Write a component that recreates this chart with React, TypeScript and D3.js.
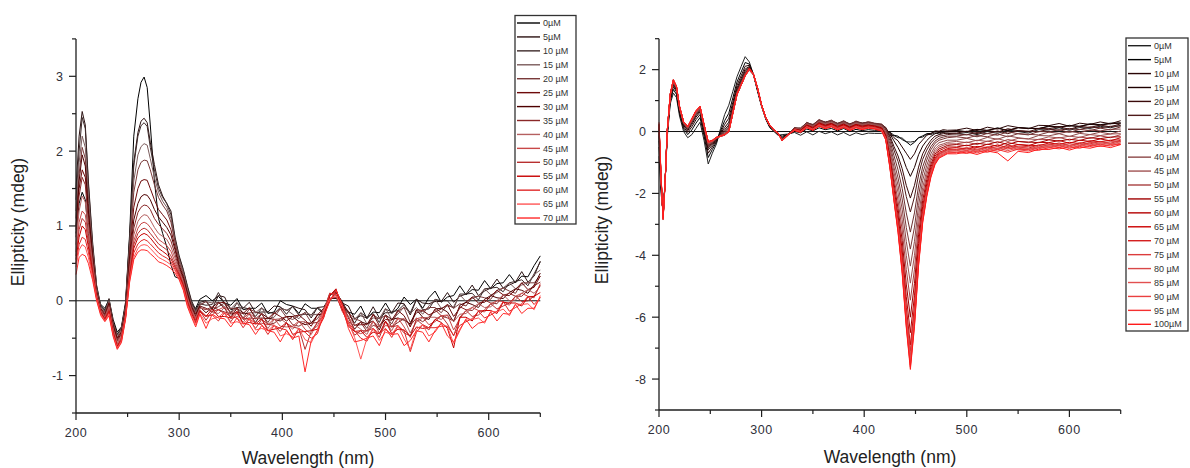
import React from 'react';
import * as d3 from 'd3';

// ---------------- LEFT PANEL DATA ----------------
const leftWavelengthsUV = [200,203,206,209,212,216,220,224,228,232,236,240,244,248,252,256,260,263,266,269,272,276,280,284,288,292,296,300,304,308,312,316,320];
const leftWavelengthsVis = [326,332,338,344,350,356,362,368,374,380,386,392,398,404,410,416,422,428,434,440,446,452,458,464,470,476,482,488,494,500,506,512,518,524,530,536,542,548,554,560,566,572,578,584,590,596,602,608,614,620,626,632,638,644,650];
const leftLabels = ['0µM','5µM','10 µM','15 µM','20 µM','25 µM','30 µM','35 µM','40 µM','45 µM','50 µM','55 µM','60 µM','65 µM','70 µM'];
const leftColors = ['#000000','#2b1212','#3d2a2a','#7b5c5c','#7a3b3b','#6e0a0a','#4d0000','#8a2828','#b56060','#c84848','#b83030','#c80000','#e02828','#ff5555','#ff2a2a'];
const leftValuesUV: number[][] = [
  [0.9,1.3,1.45,1.35,0.9,0.45,0.1,-0.05,-0.1,0.02,-0.25,-0.42,-0.35,-0.02,0.9,2.2,2.7,2.92,2.99,2.85,2.35,1.6,1.1,0.9,0.72,0.48,0.32,0.3,0.25,0.12,-0.05,-0.1,0.02],
  [1.5,2.2,2.53,2.35,1.6,0.8,0.2,-0.08,-0.12,0.0,-0.28,-0.45,-0.38,-0.05,0.85,1.85,2.25,2.4,2.44,2.38,2.12,1.82,1.55,1.4,1.3,1.2,0.85,0.6,0.42,0.2,0.0,-0.12,-0.02],
  [1.35,2.0,2.45,2.3,1.55,0.75,0.2,-0.06,-0.14,0.03,-0.3,-0.45,-0.36,-0.06,0.82,1.8,2.2,2.34,2.38,2.33,2.05,1.75,1.5,1.38,1.3,1.15,0.82,0.58,0.4,0.18,-0.02,-0.14,-0.04],
  [1.2,1.85,2.2,2.05,1.4,0.7,0.15,-0.08,-0.15,0.0,-0.3,-0.48,-0.38,-0.08,0.75,1.6,1.95,2.06,2.1,2.08,1.9,1.65,1.45,1.33,1.25,1.1,0.8,0.55,0.38,0.15,-0.05,-0.15,-0.05],
  [1.1,1.7,2.05,1.9,1.3,0.65,0.15,-0.1,-0.16,-0.02,-0.32,-0.5,-0.4,-0.1,0.68,1.45,1.75,1.85,1.88,1.87,1.75,1.55,1.38,1.28,1.2,1.05,0.78,0.52,0.35,0.12,-0.06,-0.17,-0.06],
  [1.0,1.5,1.75,1.65,1.15,0.6,0.12,-0.1,-0.18,-0.03,-0.33,-0.5,-0.42,-0.12,0.6,1.25,1.5,1.6,1.62,1.61,1.5,1.35,1.22,1.15,1.08,0.95,0.72,0.48,0.32,0.1,-0.08,-0.18,-0.07],
  [0.95,1.6,1.95,1.8,1.2,0.6,0.1,-0.12,-0.2,-0.05,-0.35,-0.52,-0.44,-0.14,0.52,1.08,1.3,1.39,1.42,1.41,1.35,1.22,1.12,1.05,0.98,0.88,0.68,0.45,0.3,0.08,-0.1,-0.2,-0.08],
  [0.85,1.4,1.65,1.55,1.05,0.55,0.1,-0.12,-0.2,-0.06,-0.36,-0.54,-0.45,-0.16,0.47,0.97,1.18,1.25,1.28,1.27,1.22,1.1,1.02,0.96,0.9,0.8,0.62,0.42,0.28,0.06,-0.11,-0.22,-0.09],
  [0.75,1.2,1.4,1.32,0.95,0.5,0.08,-0.13,-0.22,-0.08,-0.38,-0.56,-0.46,-0.18,0.42,0.88,1.06,1.12,1.15,1.14,1.08,0.98,0.9,0.86,0.82,0.72,0.57,0.4,0.25,0.04,-0.12,-0.23,-0.1],
  [0.65,1.05,1.2,1.15,0.85,0.45,0.06,-0.14,-0.23,-0.1,-0.4,-0.58,-0.48,-0.2,0.38,0.8,0.97,1.03,1.05,1.03,0.98,0.9,0.82,0.78,0.74,0.66,0.52,0.38,0.23,0.02,-0.14,-0.25,-0.12],
  [0.6,0.95,1.1,1.05,0.78,0.42,0.05,-0.15,-0.24,-0.12,-0.42,-0.6,-0.5,-0.21,0.35,0.75,0.9,0.95,0.97,0.95,0.9,0.83,0.76,0.72,0.68,0.6,0.48,0.36,0.22,0.0,-0.15,-0.26,-0.13],
  [0.55,0.85,1.0,0.95,0.72,0.38,0.04,-0.16,-0.25,-0.14,-0.43,-0.61,-0.52,-0.22,0.32,0.7,0.84,0.88,0.9,0.88,0.84,0.77,0.7,0.66,0.62,0.56,0.45,0.34,0.2,-0.02,-0.17,-0.28,-0.14],
  [0.5,0.75,0.85,0.82,0.65,0.35,0.03,-0.17,-0.26,-0.16,-0.45,-0.63,-0.53,-0.23,0.3,0.64,0.76,0.8,0.82,0.8,0.76,0.7,0.64,0.6,0.57,0.52,0.42,0.32,0.18,-0.04,-0.19,-0.3,-0.15],
  [0.45,0.68,0.75,0.72,0.58,0.32,0.02,-0.18,-0.27,-0.18,-0.46,-0.64,-0.55,-0.24,0.27,0.58,0.7,0.74,0.75,0.74,0.7,0.64,0.58,0.55,0.52,0.48,0.4,0.3,0.16,-0.06,-0.2,-0.32,-0.17],
  [0.35,0.58,0.62,0.6,0.5,0.28,0.0,-0.2,-0.28,-0.2,-0.48,-0.65,-0.56,-0.25,0.25,0.55,0.65,0.68,0.68,0.67,0.63,0.58,0.52,0.5,0.47,0.43,0.37,0.28,0.14,-0.08,-0.22,-0.35,-0.18],
];
const leftValuesVis: number[][] = [
  [0.07,0.0,0.06,-0.03,-0.06,0.03,-0.12,-0.10,-0.10,-0.03,-0.17,-0.15,0.0,-0.05,-0.07,-0.17,-0.04,-0.10,-0.10,-0.17,0.07,0.13,-0.07,-0.15,-0.18,-0.07,-0.24,-0.15,-0.16,-0.03,-0.17,-0.10,0.05,-0.05,0.02,-0.10,0.04,0.13,-0.02,0.05,0.07,0.20,0.08,0.15,0.14,0.27,0.16,0.23,0.24,0.35,0.24,0.33,0.32,0.47,0.60],
  [0.0,-0.11,0.07,0.05,-0.12,-0.09,-0.10,-0.02,-0.16,-0.15,-0.15,-0.07,-0.08,-0.18,-0.07,-0.10,-0.12,-0.23,-0.09,-0.08,0.03,0.03,-0.03,-0.07,-0.24,-0.20,-0.23,-0.08,-0.23,-0.16,-0.16,-0.03,-0.04,-0.19,0.02,-0.03,-0.04,-0.01,-0.01,0.11,-0.02,0.06,0.09,0.21,0.07,0.13,0.17,0.29,0.17,0.21,0.25,0.39,0.25,0.33,0.53],
  [-0.06,-0.05,0.11,-0.04,-0.16,-0.03,-0.09,-0.11,-0.21,-0.10,-0.15,-0.17,-0.09,-0.13,-0.08,-0.19,-0.18,-0.19,-0.09,-0.15,0.0,0.11,-0.01,-0.16,-0.30,-0.16,-0.22,-0.17,-0.29,-0.11,-0.15,-0.13,-0.05,-0.16,0.02,-0.12,-0.11,0.02,0.0,0.0,-0.10,0.09,0.09,0.10,0.01,0.16,0.17,0.18,0.12,0.24,0.26,0.28,0.20,0.36,0.52],
  [-0.01,-0.03,-0.02,-0.08,-0.11,-0.02,-0.18,-0.16,-0.16,-0.09,-0.24,-0.22,-0.11,-0.12,-0.18,-0.24,-0.15,-0.19,-0.18,-0.19,0.07,0.14,-0.08,-0.21,-0.25,-0.16,-0.31,-0.23,-0.24,-0.10,-0.25,-0.18,-0.08,-0.17,-0.09,-0.18,-0.07,0.02,-0.10,-0.07,-0.08,0.08,-0.01,0.03,0.06,0.16,0.08,0.11,0.17,0.24,0.16,0.21,0.24,0.35,0.41],
  [-0.01,-0.12,-0.08,-0.03,-0.10,-0.11,-0.23,-0.11,-0.15,-0.18,-0.29,-0.17,-0.11,-0.22,-0.25,-0.20,-0.16,-0.29,-0.24,-0.12,0.10,0.07,-0.12,-0.16,-0.24,-0.27,-0.37,-0.19,-0.24,-0.20,-0.31,-0.14,-0.09,-0.29,-0.16,-0.14,-0.09,-0.09,-0.16,-0.05,-0.10,-0.04,-0.07,0.05,0.06,0.04,0.02,0.14,0.17,0.13,0.10,0.24,0.24,0.24,0.33],
  [-0.10,-0.15,-0.03,-0.02,-0.18,-0.15,-0.17,-0.09,-0.24,-0.23,-0.24,-0.16,-0.21,-0.27,-0.21,-0.19,-0.26,-0.34,-0.19,-0.10,0.03,0.04,-0.05,-0.14,-0.33,-0.32,-0.32,-0.18,-0.33,-0.25,-0.26,-0.13,-0.20,-0.35,-0.12,-0.13,-0.19,-0.15,-0.11,-0.05,-0.21,-0.10,-0.02,0.05,-0.03,-0.02,0.06,0.14,0.08,0.07,0.15,0.24,0.15,0.18,0.33],
  [-0.16,-0.09,-0.02,-0.10,-0.22,-0.10,-0.16,-0.18,-0.29,-0.17,-0.23,-0.25,-0.27,-0.21,-0.21,-0.28,-0.32,-0.30,-0.19,-0.17,0.0,0.12,-0.02,-0.23,-0.38,-0.28,-0.31,-0.27,-0.39,-0.19,-0.25,-0.23,-0.26,-0.31,-0.12,-0.22,-0.25,-0.11,-0.10,-0.15,-0.28,-0.06,-0.02,-0.05,-0.09,0.02,0.07,0.04,0.03,0.11,0.16,0.14,0.10,0.21,0.37],
  [-0.12,-0.08,-0.12,-0.15,-0.17,-0.09,-0.25,-0.23,-0.24,-0.17,-0.32,-0.30,-0.24,-0.21,-0.32,-0.34,-0.29,-0.30,-0.29,-0.21,0.07,0.15,-0.10,-0.28,-0.33,-0.29,-0.41,-0.33,-0.35,-0.19,-0.35,-0.29,-0.24,-0.33,-0.23,-0.28,-0.22,-0.12,-0.20,-0.23,-0.27,-0.08,-0.12,-0.13,-0.05,0.01,-0.03,-0.04,0.07,0.10,0.06,0.06,0.14,0.20,0.25],
  [-0.11,-0.15,-0.17,-0.09,-0.15,-0.17,-0.29,-0.17,-0.23,-0.25,-0.37,-0.25,-0.24,-0.30,-0.38,-0.28,-0.28,-0.39,-0.34,-0.14,0.10,0.08,-0.13,-0.22,-0.32,-0.38,-0.45,-0.28,-0.34,-0.28,-0.40,-0.24,-0.24,-0.43,-0.28,-0.23,-0.22,-0.22,-0.25,-0.19,-0.28,-0.18,-0.17,-0.09,-0.04,-0.09,-0.08,0.0,0.08,0.0,0.01,0.10,0.15,0.10,0.19],
  [-0.20,-0.19,-0.12,-0.08,-0.24,-0.21,-0.24,-0.16,-0.31,-0.30,-0.32,-0.24,-0.34,-0.35,-0.34,-0.27,-0.38,-0.45,-0.29,-0.12,0.03,0.05,-0.06,-0.21,-0.41,-0.44,-0.40,-0.27,-0.43,-0.33,-0.35,-0.23,-0.35,-0.49,-0.24,-0.22,-0.32,-0.28,-0.20,-0.19,-0.39,-0.24,-0.13,-0.09,-0.13,-0.15,-0.04,0.0,-0.01,-0.06,0.06,0.10,0.06,0.04,0.23],
  [-0.26,-0.14,-0.12,-0.17,-0.28,-0.16,-0.23,-0.25,-0.37,-0.25,-0.31,-0.33,-0.41,-0.30,-0.35,-0.37,-0.65,-0.41,-0.29,-0.20,0.0,0.13,-0.04,-0.30,-0.46,-0.40,-0.40,-0.37,-0.49,-0.28,-0.35,-0.33,-0.43,-0.47,-0.25,-0.32,-0.39,-0.25,-0.20,-0.31,-0.47,-0.22,-0.13,-0.21,-0.19,-0.12,-0.04,-0.11,-0.07,-0.03,0.06,-0.01,0.0,0.06,0.21],
  [-0.21,-0.11,-0.21,-0.21,-0.23,-0.14,-0.31,-0.29,-0.31,-0.24,-0.40,-0.38,-0.36,-0.29,-0.45,-0.42,-0.41,-0.40,-0.38,-0.23,0.07,0.16,-0.11,-0.34,-0.41,-0.40,-0.49,-0.42,-0.44,-0.27,-0.44,-0.38,-0.39,-0.47,-0.35,-0.37,-0.36,-0.25,-0.29,-0.37,-0.63,-0.22,-0.22,-0.27,-0.14,-0.13,-0.13,-0.17,-0.02,-0.03,-0.03,-0.07,0.05,0.06,0.11],
  [-0.21,-0.19,-0.27,-0.16,-0.21,-0.23,-0.36,-0.24,-0.30,-0.32,-0.45,-0.33,-0.37,-0.39,-0.52,-0.37,-0.42,-0.50,-0.44,-0.17,0.10,0.09,-0.14,-0.29,-0.40,-0.50,-0.54,-0.37,-0.44,-0.37,-0.49,-0.34,-0.40,-0.68,-0.42,-0.32,-0.36,-0.36,-0.34,-0.34,-0.46,-0.33,-0.28,-0.24,-0.14,-0.23,-0.19,-0.14,-0.01,-0.14,-0.09,-0.04,0.06,-0.05,0.04],
  [-0.30,-0.24,-0.22,-0.15,-0.30,-0.28,-0.31,-0.23,-0.39,-0.37,-0.40,-0.32,-0.47,-0.44,-0.48,-0.37,-0.52,-0.56,-0.39,-0.14,0.03,0.07,-0.08,-0.28,-0.49,-0.78,-0.50,-0.37,-0.53,-0.42,-0.45,-0.33,-0.51,-0.65,-0.38,-0.32,-0.47,-0.42,-0.30,-0.35,-0.57,-0.40,-0.24,-0.25,-0.23,-0.30,-0.14,-0.15,-0.11,-0.20,-0.04,-0.05,-0.04,-0.12,0.07],
  [-0.37,-0.18,-0.23,-0.24,-0.35,-0.23,-0.30,-0.32,-0.45,-0.33,-0.40,-0.42,-0.55,-0.40,-0.50,-0.47,-0.95,-0.53,-0.40,-0.22,0.0,0.14,-0.05,-0.37,-0.55,-0.53,-0.50,-0.47,-0.60,-0.38,-0.45,-0.44,-0.60,-0.53,-0.40,-0.42,-0.55,-0.40,-0.30,-0.47,-0.55,-0.38,-0.25,-0.37,-0.30,-0.28,-0.15,-0.27,-0.17,-0.18,-0.05,-0.17,-0.10,-0.10,0.05],
];
const leftYMajor = [-1, 0, 1, 2, 3];
const leftYMinor = [-1.5, -0.5, 0.5, 1.5, 2.5, 3.5];

// ---------------- RIGHT PANEL DATA ----------------
const rightWavelengthsUV = [200,202,204,206,208,211,214,217,220,224,228,232,236,240,244,248,252,256,260,264,268,272,276,280,284,288,292,296,300,304,308,312,316,320,326];
const rightWavelengthsMid = [332,338,344,350,356,362,368,374,380,386,392,398,404,410];
const rightWavelengthsBand = [417,421,425,429,433,437,441,445,449,453,457,461,465,469,473,477,481];
const rightWavelengthsTail = [490,500,510,520,530,540,550,560,570,580,590,600,610,620,630,640,650];
const rightLabels = ['0µM','5µM','10 µM','15 µM','20 µM','25 µM','30 µM','35 µM','40 µM','45 µM','50 µM','55 µM','60 µM','65 µM','70 µM','75 µM','80 µM','85 µM','90 µM','95 µM','100µM'];
const rightColors = ['#222222','#000000','#2a0505','#1e0000','#3a0a0a','#4e1a1a','#6a2e2e','#7a3838','#8c4848','#a05252','#a84040','#a00000','#b40000','#cc0000','#d42020','#dc3c3c','#d84848','#e25050','#ea4040','#f43030','#ff1a1a'];
const rightValuesUV: number[][] = [
  [-0.8,-2.0,-2.6,-1.6,-0.2,0.9,1.24,1.1,0.5,0.0,-0.2,-0.1,0.1,0.3,-0.3,-1.05,-0.7,-0.4,0.1,0.55,0.85,1.3,1.77,2.1,2.42,2.25,1.85,1.3,0.8,0.4,0.12,0.0,-0.12,-0.1,-0.08],
  [-0.5,-1.85,-2.66,-1.6,-0.14,0.99,1.36,1.2,0.59,0.09,-0.1,0.05,0.27,0.45,-0.15,-0.84,-0.58,-0.34,0.02,0.35,0.59,1.09,1.6,1.92,2.23,2.18,1.85,1.33,0.82,0.42,0.14,0.02,-0.1,-0.15,-0.09],
  [-0.3,-1.75,-2.7,-1.6,-0.1,1.05,1.45,1.28,0.65,0.15,-0.03,0.15,0.38,0.55,-0.05,-0.7,-0.5,-0.3,-0.03,0.23,0.43,0.95,1.49,1.8,2.11,2.14,1.85,1.35,0.83,0.43,0.16,0.03,-0.09,-0.19,-0.09],
  [-0.15,-1.67,-2.73,-1.6,-0.07,1.1,1.51,1.33,0.7,0.2,0.03,0.23,0.46,0.63,0.03,-0.59,-0.44,-0.27,-0.06,0.13,0.3,0.84,1.4,1.71,2.02,2.1,1.85,1.37,0.83,0.43,0.17,0.03,-0.07,-0.22,-0.09],
  [-0.05,-1.63,-2.75,-1.6,-0.05,1.13,1.55,1.36,0.73,0.23,0.06,0.28,0.51,0.68,0.08,-0.53,-0.4,-0.25,-0.09,0.06,0.21,0.78,1.34,1.65,1.96,2.08,1.85,1.38,0.84,0.44,0.18,0.04,-0.07,-0.24,-0.1],
  [0.02,-1.59,-2.76,-1.6,-0.04,1.15,1.58,1.39,0.75,0.25,0.09,0.31,0.55,0.71,0.11,-0.48,-0.37,-0.24,-0.11,0.02,0.15,0.73,1.3,1.61,1.91,2.06,1.85,1.38,0.84,0.44,0.19,0.04,-0.06,-0.25,-0.1],
  [0.06,-1.57,-2.77,-1.6,-0.03,1.16,1.59,1.4,0.76,0.26,0.1,0.33,0.57,0.73,0.13,-0.45,-0.36,-0.23,-0.12,-0.01,0.12,0.7,1.28,1.58,1.89,2.05,1.85,1.39,0.84,0.44,0.19,0.04,-0.06,-0.25,-0.1],
  [0.09,-1.56,-2.78,-1.62,-0.02,1.17,1.6,1.42,0.77,0.27,0.11,0.34,0.59,0.74,0.15,-0.43,-0.34,-0.22,-0.12,-0.04,0.09,0.68,1.26,1.56,1.87,2.04,1.85,1.39,0.85,0.45,0.19,0.05,-0.05,-0.26,-0.1],
  [0.1,-1.55,-2.75,-1.58,-0.02,1.15,1.6,1.42,0.75,0.25,0.1,0.33,0.58,0.72,0.15,-0.4,-0.33,-0.22,-0.13,-0.06,0.05,0.66,1.24,1.55,1.84,1.98,1.82,1.38,0.83,0.44,0.18,0.02,-0.08,-0.25,-0.12],
  [0.15,-1.5,-2.72,-1.6,0.02,1.18,1.62,1.44,0.78,0.28,0.12,0.36,0.6,0.75,0.17,-0.38,-0.32,-0.2,-0.15,-0.08,0.02,0.62,1.2,1.52,1.82,2.0,1.84,1.4,0.85,0.46,0.2,0.04,-0.06,-0.27,-0.11],
  [0.12,-1.52,-2.82,-1.62,-0.01,1.2,1.64,1.46,0.8,0.3,0.14,0.38,0.62,0.78,0.18,-0.36,-0.3,-0.22,-0.14,-0.1,0.0,0.6,1.18,1.5,1.8,1.98,1.86,1.42,0.86,0.45,0.19,0.05,-0.04,-0.3,-0.1],
  [0.18,-1.48,-2.78,-1.6,0.0,1.22,1.66,1.44,0.82,0.32,0.16,0.4,0.64,0.8,0.2,-0.34,-0.28,-0.18,-0.16,-0.12,-0.02,0.58,1.18,1.5,1.79,2.02,1.85,1.4,0.84,0.44,0.2,0.06,-0.05,-0.28,-0.09],
  [0.2,-1.5,-2.8,-1.62,0.01,1.2,1.66,1.46,0.8,0.3,0.15,0.41,0.66,0.79,0.2,-0.35,-0.31,-0.21,-0.15,-0.1,0.01,0.61,1.2,1.5,1.8,2.04,1.86,1.41,0.86,0.46,0.21,0.05,-0.06,-0.29,-0.1],
  [0.22,-1.46,-2.84,-1.64,0.0,1.22,1.68,1.47,0.82,0.31,0.16,0.42,0.67,0.8,0.21,-0.34,-0.3,-0.19,-0.16,-0.11,0.0,0.59,1.19,1.49,1.81,2.05,1.87,1.42,0.86,0.45,0.2,0.05,-0.05,-0.3,-0.11],
  [0.25,-1.45,-2.82,-1.6,0.02,1.21,1.67,1.46,0.81,0.31,0.15,0.41,0.66,0.81,0.21,-0.33,-0.29,-0.2,-0.15,-0.1,0.01,0.6,1.21,1.51,1.8,2.03,1.86,1.41,0.85,0.45,0.2,0.05,-0.05,-0.29,-0.1],
  [0.18,-1.52,-2.86,-1.66,-0.02,1.19,1.66,1.46,0.8,0.3,0.15,0.4,0.65,0.8,0.2,-0.35,-0.31,-0.2,-0.15,-0.1,0.0,0.6,1.2,1.5,1.8,2.02,1.85,1.4,0.85,0.45,0.2,0.04,-0.06,-0.3,-0.12],
  [0.22,-1.48,-2.8,-1.6,0.0,1.22,1.67,1.45,0.8,0.29,0.14,0.39,0.64,0.79,0.19,-0.36,-0.31,-0.21,-0.16,-0.1,0.0,0.6,1.19,1.49,1.79,2.01,1.84,1.4,0.85,0.45,0.2,0.05,-0.05,-0.28,-0.1],
  [0.2,-1.5,-2.84,-1.62,0.0,1.2,1.65,1.44,0.79,0.3,0.15,0.4,0.66,0.8,0.2,-0.35,-0.3,-0.2,-0.14,-0.1,0.0,0.61,1.2,1.5,1.8,2.02,1.85,1.4,0.85,0.45,0.2,0.05,-0.05,-0.29,-0.1],
  [0.24,-1.46,-2.78,-1.6,0.01,1.21,1.66,1.46,0.81,0.31,0.16,0.41,0.65,0.8,0.2,-0.34,-0.3,-0.2,-0.15,-0.1,0.0,0.6,1.2,1.5,1.8,2.02,1.85,1.4,0.85,0.45,0.2,0.05,-0.05,-0.28,-0.1],
  [0.2,-1.5,-2.8,-1.6,0.0,1.2,1.65,1.45,0.8,0.3,0.15,0.4,0.65,0.8,0.2,-0.35,-0.3,-0.2,-0.15,-0.1,0.0,0.6,1.2,1.5,1.8,2.02,1.85,1.4,0.85,0.45,0.2,0.05,-0.05,-0.28,-0.1],
  [0.3,-1.4,-2.82,-1.58,0.02,1.22,1.67,1.46,0.81,0.31,0.16,0.42,0.68,0.82,0.22,-0.32,-0.28,-0.19,-0.14,-0.09,0.01,0.62,1.22,1.52,1.82,2.03,1.86,1.41,0.86,0.46,0.21,0.06,-0.04,-0.3,-0.1],
];
const rightValuesMid: number[][] = [
  [-0.03,-0.12,-0.01,-0.11,0.01,-0.07,-0.01,-0.11,-0.03,-0.13,-0.04,-0.1,-0.05,-0.06],
  [0.0,-0.04,0.08,0.02,0.12,0.06,0.1,0.02,0.1,0.0,0.07,0.03,0.06,0.04],
  [0.05,0.02,0.16,0.1,0.22,0.16,0.2,0.12,0.2,0.1,0.17,0.13,0.15,0.12],
  [0.1,0.04,0.22,0.16,0.31,0.21,0.27,0.19,0.27,0.15,0.24,0.2,0.22,0.19],
  [0.12,0.08,0.26,0.21,0.35,0.29,0.33,0.25,0.31,0.23,0.3,0.26,0.28,0.24],
  [0.1,0.12,0.28,0.23,0.37,0.31,0.35,0.27,0.33,0.25,0.32,0.28,0.3,0.26],
  [0.13,0.09,0.3,0.21,0.39,0.29,0.37,0.25,0.35,0.23,0.34,0.26,0.32,0.27],
  [0.1,0.1,0.26,0.19,0.36,0.27,0.35,0.23,0.33,0.21,0.31,0.24,0.28,0.25],
  [0.1,0.08,0.26,0.18,0.34,0.26,0.32,0.22,0.3,0.2,0.29,0.23,0.27,0.23],
  [0.1,0.06,0.24,0.17,0.32,0.24,0.3,0.2,0.28,0.18,0.27,0.21,0.25,0.22],
  [0.08,0.06,0.22,0.16,0.29,0.23,0.27,0.19,0.25,0.17,0.24,0.2,0.22,0.19],
  [0.08,0.04,0.21,0.13,0.28,0.2,0.26,0.16,0.24,0.14,0.23,0.17,0.21,0.18],
  [0.07,0.03,0.19,0.11,0.26,0.18,0.24,0.14,0.22,0.12,0.21,0.15,0.19,0.16],
  [0.06,0.02,0.18,0.09,0.24,0.16,0.22,0.12,0.2,0.1,0.19,0.13,0.17,0.14],
  [0.07,0.0,0.16,0.08,0.22,0.16,0.2,0.12,0.18,0.1,0.17,0.13,0.15,0.12],
  [0.06,0.0,0.16,0.08,0.22,0.14,0.2,0.1,0.18,0.08,0.17,0.11,0.15,0.13],
  [0.05,0.0,0.15,0.07,0.21,0.13,0.19,0.09,0.17,0.07,0.16,0.1,0.14,0.12],
  [0.05,-0.01,0.15,0.06,0.2,0.12,0.18,0.08,0.16,0.06,0.15,0.09,0.13,0.11],
  [0.04,-0.01,0.14,0.05,0.19,0.11,0.17,0.07,0.15,0.05,0.14,0.08,0.12,0.1],
  [0.04,-0.02,0.13,0.04,0.18,0.1,0.16,0.06,0.14,0.04,0.13,0.07,0.12,0.09],
  [0.03,-0.03,0.12,0.04,0.17,0.09,0.15,0.05,0.13,0.03,0.12,0.06,0.11,0.08],
];
const rightValuesBand: number[][] = [
  [-0.06,-0.04,-0.12,-0.13,-0.2,-0.21,-0.33,-0.34,-0.32,-0.2,-0.18,-0.09,-0.1,-0.04,-0.08,-0.03,-0.06],
  [0.04,0.0,-0.02,-0.12,-0.15,-0.26,-0.33,-0.44,-0.35,-0.2,-0.14,-0.07,-0.06,0.0,-0.03,0.02,-0.01],
  [0.11,0.06,-0.03,-0.2,-0.3,-0.5,-0.7,-0.9,-0.72,-0.42,-0.27,-0.12,-0.07,0.02,0.01,0.06,0.04],
  [0.17,0.11,-0.07,-0.3,-0.52,-0.79,-1.16,-1.45,-1.16,-0.75,-0.47,-0.29,-0.16,-0.07,-0.03,-0.02,0.0],
  [0.22,0.13,-0.14,-0.48,-0.79,-1.2,-1.74,-2.15,-1.74,-1.15,-0.72,-0.47,-0.28,-0.15,-0.1,-0.07,-0.05],
  [0.23,0.13,-0.2,-0.6,-0.97,-1.45,-2.1,-2.6,-2.11,-1.4,-0.9,-0.6,-0.37,-0.23,-0.15,-0.13,-0.1],
  [0.24,0.11,-0.29,-0.78,-1.24,-1.84,-2.63,-3.25,-2.63,-1.76,-1.14,-0.77,-0.49,-0.31,-0.22,-0.18,-0.15],
  [0.21,0.07,-0.4,-0.97,-1.5,-2.18,-3.1,-3.8,-3.09,-2.07,-1.35,-0.92,-0.59,-0.38,-0.28,-0.24,-0.2],
  [0.19,0.01,-0.51,-1.15,-1.74,-2.51,-3.55,-4.35,-3.55,-2.39,-1.58,-1.09,-0.72,-0.48,-0.36,-0.32,-0.28],
  [0.17,-0.02,-0.6,-1.31,-1.98,-2.85,-4.0,-4.9,-4.0,-2.71,-1.81,-1.25,-0.84,-0.57,-0.44,-0.4,-0.35],
  [0.14,-0.07,-0.71,-1.5,-2.24,-3.18,-4.46,-5.45,-4.45,-3.02,-2.01,-1.4,-0.95,-0.65,-0.5,-0.45,-0.4],
  [0.12,-0.11,-0.8,-1.67,-2.49,-3.52,-4.93,-6.0,-4.91,-3.34,-2.23,-1.55,-1.06,-0.73,-0.56,-0.51,-0.45],
  [0.1,-0.15,-0.91,-1.84,-2.7,-3.83,-5.34,-6.5,-5.31,-3.62,-2.42,-1.69,-1.15,-0.8,-0.62,-0.56,-0.5],
  [0.07,-0.18,-0.99,-1.97,-2.89,-4.08,-5.68,-6.9,-5.64,-3.85,-2.58,-1.82,-1.24,-0.87,-0.67,-0.62,-0.55],
  [0.05,-0.21,-1.03,-2.04,-2.99,-4.2,-5.84,-7.1,-5.81,-3.97,-2.66,-1.88,-1.29,-0.91,-0.71,-0.65,-0.58],
  [0.06,-0.21,-1.05,-2.08,-3.05,-4.29,-5.96,-7.25,-5.93,-4.06,-2.73,-1.92,-1.33,-0.93,-0.73,-0.67,-0.6],
  [0.05,-0.22,-1.07,-2.12,-3.1,-4.35,-6.05,-7.35,-6.02,-4.12,-2.77,-1.96,-1.36,-0.96,-0.75,-0.69,-0.62],
  [0.04,-0.23,-1.1,-2.16,-3.14,-4.42,-6.13,-7.45,-6.11,-4.18,-2.82,-2.0,-1.39,-0.99,-0.78,-0.72,-0.65],
  [0.03,-0.25,-1.12,-2.19,-3.19,-4.48,-6.21,-7.55,-6.19,-4.25,-2.87,-2.04,-1.42,-1.02,-0.81,-0.74,-0.67],
  [0.02,-0.26,-1.15,-2.22,-3.23,-4.53,-6.27,-7.62,-6.25,-4.29,-2.91,-2.07,-1.45,-1.05,-0.84,-0.77,-0.7],
  [0.01,-0.27,-1.17,-2.24,-3.27,-4.58,-6.33,-7.69,-6.31,-4.34,-2.95,-2.1,-1.48,-1.07,-0.86,-0.79,-0.72],
];
const rightValuesTail: number[][] = [
  [-0.08,-0.03,-0.1,0.0,-0.06,0.05,0.0,-0.05,0.06,0.05,0.12,0.04,0.13,0.1,0.17,0.12,0.2],
  [0.03,-0.01,0.07,0.03,0.12,0.03,0.13,0.11,0.09,0.18,0.14,0.2,0.16,0.25,0.22,0.27,0.28],
  [0.05,0.11,0.03,0.14,0.08,0.19,0.13,0.09,0.2,0.19,0.26,0.17,0.27,0.23,0.31,0.25,0.35],
  [0.02,0.0,0.06,0.04,0.1,0.04,0.12,0.1,0.1,0.16,0.15,0.18,0.17,0.23,0.21,0.25,0.27],
  [-0.05,0.01,-0.07,0.04,-0.02,0.09,0.03,-0.01,0.1,0.09,0.16,0.07,0.17,0.13,0.21,0.15,0.25],
  [-0.07,-0.11,-0.03,-0.07,0.02,-0.07,0.03,0.01,-0.01,0.08,0.04,0.1,0.06,0.15,0.12,0.17,0.18],
  [-0.15,-0.09,-0.17,-0.06,-0.12,-0.01,-0.07,-0.11,0.0,-0.01,0.06,-0.03,0.07,0.03,0.11,0.05,0.15],
  [-0.17,-0.21,-0.13,-0.17,-0.08,-0.17,-0.07,-0.09,-0.11,-0.02,-0.06,0.0,-0.04,0.05,0.02,0.07,0.08],
  [-0.28,-0.22,-0.3,-0.19,-0.25,-0.14,-0.2,-0.24,-0.13,-0.14,-0.07,-0.16,-0.06,-0.1,-0.02,-0.08,0.02],
  [-0.32,-0.36,-0.28,-0.32,-0.23,-0.32,-0.22,-0.24,-0.26,-0.17,-0.21,-0.15,-0.19,-0.1,-0.13,-0.08,-0.07],
  [-0.4,-0.34,-0.42,-0.31,-0.37,-0.26,-0.32,-0.36,-0.25,-0.26,-0.19,-0.28,-0.18,-0.22,-0.14,-0.2,-0.1],
  [-0.42,-0.46,-0.38,-0.42,-0.33,-0.42,-0.32,-0.34,-0.36,-0.27,-0.31,-0.25,-0.29,-0.2,-0.23,-0.18,-0.17],
  [-0.5,-0.44,-0.52,-0.41,-0.47,-0.36,-0.42,-0.46,-0.35,-0.36,-0.29,-0.38,-0.28,-0.32,-0.24,-0.3,-0.2],
  [-0.52,-0.56,-0.48,-0.52,-0.43,-0.52,-0.42,-0.44,-0.46,-0.37,-0.41,-0.35,-0.39,-0.3,-0.33,-0.28,-0.27],
  [-0.58,-0.52,-0.6,-0.49,-0.55,-0.44,-0.5,-0.54,-0.43,-0.44,-0.37,-0.46,-0.36,-0.4,-0.32,-0.38,-0.28],
  [-0.57,-0.61,-0.53,-0.57,-0.48,-0.57,-0.47,-0.49,-0.51,-0.42,-0.46,-0.4,-0.44,-0.35,-0.38,-0.33,-0.32],
  [-0.62,-0.56,-0.64,-0.53,-0.59,-0.48,-0.54,-0.58,-0.47,-0.48,-0.41,-0.5,-0.4,-0.44,-0.36,-0.42,-0.32],
  [-0.62,-0.66,-0.58,-0.62,-0.53,-0.62,-0.52,-0.54,-0.56,-0.47,-0.51,-0.45,-0.49,-0.4,-0.43,-0.38,-0.37],
  [-0.67,-0.61,-0.69,-0.58,-0.64,-0.53,-0.59,-0.63,-0.52,-0.53,-0.46,-0.55,-0.45,-0.49,-0.41,-0.47,-0.37],
  [-0.67,-0.71,-0.63,-0.67,-0.58,-0.67,-0.57,-0.59,-0.61,-0.52,-0.56,-0.5,-0.54,-0.45,-0.48,-0.43,-0.42],
  [-0.72,-0.66,-0.74,-0.63,-0.69,-0.95,-0.64,-0.68,-0.57,-0.58,-0.51,-0.6,-0.5,-0.54,-0.46,-0.52,-0.42],
];
const rightYMajor = [-8, -6, -4, -2, 0, 2];
const rightYMinor = [-9, -7, -5, -3, -1, 1, 3];

const xMajor = [200, 300, 400, 500, 600];
const xMinor = [250, 350, 450, 550, 650];
const xDomain = [200, 650];

// ---------------- tables built from the arrays ----------------
const leftWavelengths = [...leftWavelengthsUV, ...leftWavelengthsVis];
const leftSeries = leftValuesUV.map((row, i) => [...row, ...leftValuesVis[i]]);
const rightWavelengths = [...rightWavelengthsUV, ...rightWavelengthsMid, ...rightWavelengthsBand, ...rightWavelengthsTail];
const rightSeries = rightValuesUV.map((row, i) => [...row, ...rightValuesMid[i], ...rightValuesBand[i], ...rightValuesTail[i]]);

const FONT = "Arial, 'Liberation Sans', Helvetica, sans-serif";
const AXIS = '#1e1e1e';
const TICKTXT = '#30303a';

type PanelProps = {
  left: number; right: number; top: number; bottom: number;
  yDomain: [number, number];
  yMajor: number[]; yMinor: number[];
  wavelengths: number[]; series: number[][]; colors: string[]; labels: string[];
  yTitleX: number; yTitleY: number; xTitleX: number; xTitleY: number;
  xLabelY: number; yLabelX: number;
  legend: { x: number; y: number; w: number; h: number; row0: number; step: number };
};

function Panel(p: PanelProps) {
  const x = d3.scaleLinear().domain(xDomain).range([p.left, p.right]);
  const y = d3.scaleLinear().domain(p.yDomain).range([p.bottom, p.top]);
  const line = d3.line<number>().x((_, i) => x(p.wavelengths[i])).y((d) => y(d));
  const L = p.legend;
  return (
    <g>
      <line x1={x(200)} x2={x(650)} y1={y(0)} y2={y(0)} stroke="#111" strokeWidth={1} />
      <g fill="none" strokeWidth={1} strokeLinejoin="round">
        {p.series.map((s, i) => (
          <path key={i} d={line(s) || ''} stroke={p.colors[i]} />
        ))}
      </g>
      <line x1={p.left} x2={p.left} y1={p.top} y2={p.bottom} stroke={AXIS} strokeWidth={1.3} />
      <line x1={p.left} x2={p.right} y1={p.bottom} y2={p.bottom} stroke={AXIS} strokeWidth={1.3} />
      {p.yMajor.map((v) => (
        <g key={'ym' + v}>
          <line x1={p.left - 7} x2={p.left} y1={y(v)} y2={y(v)} stroke={AXIS} strokeWidth={1.2} />
          <text x={p.yLabelX} y={y(v)} dy="0.36em" textAnchor="end" fontSize={12.5} fill={TICKTXT} fontFamily={FONT}>{v}</text>
        </g>
      ))}
      {p.yMinor.map((v) => (
        <line key={'yn' + v} x1={p.left - 4} x2={p.left} y1={y(v)} y2={y(v)} stroke={AXIS} strokeWidth={1.2} />
      ))}
      {xMajor.map((v) => (
        <g key={'xm' + v}>
          <line x1={x(v)} x2={x(v)} y1={p.bottom} y2={p.bottom + 7} stroke={AXIS} strokeWidth={1.2} />
          <text x={x(v)} y={p.xLabelY} textAnchor="middle" fontSize={12.5} fill={TICKTXT} fontFamily={FONT} letterSpacing={0.6}>{v}</text>
        </g>
      ))}
      {xMinor.map((v) => (
        <line key={'xn' + v} x1={x(v)} x2={x(v)} y1={p.bottom} y2={p.bottom + 4} stroke={AXIS} strokeWidth={1.2} />
      ))}
      <text transform={`translate(${p.yTitleX},${p.yTitleY}) rotate(-90)`} textAnchor="middle" fontSize={17.5} fill="#222" fontFamily={FONT}>Ellipticity (mdeg)</text>
      <text x={p.xTitleX} y={p.xTitleY} textAnchor="middle" fontSize={17.5} fill="#222" fontFamily={FONT}>Wavelength (nm)</text>
      <rect x={L.x} y={L.y} width={L.w} height={L.h} fill="#fff" stroke="#333" strokeWidth={1.3} />
      {p.labels.map((lab, i) => {
        const ry = L.row0 + i * L.step;
        return (
          <g key={'lg' + i}>
            <line x1={L.x + 2} x2={L.x + 25} y1={ry} y2={ry} stroke={p.colors[i]} strokeWidth={1.4} />
            <text x={L.x + 28} y={ry} dy="0.35em" fontSize={9} fill="#333" fontFamily={FONT}>{lab}</text>
          </g>
        );
      })}
    </g>
  );
}

export default function App() {
  return (
    <svg width={1190} height={468} viewBox="0 0 1190 468" style={{ position: 'absolute', left: 0, top: 0, background: '#fff' }}>
      <rect x={0} y={0} width={1190} height={468} fill="#fff" />
      <Panel
        left={76} right={540.3} top={38.9} bottom={413}
        yDomain={[-1.5, 3.5]} yMajor={leftYMajor} yMinor={leftYMinor}
        wavelengths={leftWavelengths} series={leftSeries} colors={leftColors} labels={leftLabels}
        yTitleX={24} yTitleY={222} xTitleX={308} xTitleY={464}
        xLabelY={437} yLabelX={63}
        legend={{ x: 515, y: 15.5, w: 61, h: 208.5, row0: 23, step: 13.93 }}
      />
      <Panel
        left={659} right={1120.7} top={38.7} bottom={410}
        yDomain={[-9, 3]} yMajor={rightYMajor} yMinor={rightYMinor}
        wavelengths={rightWavelengths} series={rightSeries} colors={rightColors} labels={rightLabels}
        yTitleX={608} yTitleY={220} xTitleX={890} xTitleY={463}
        xLabelY={434} yLabelX={646}
        legend={{ x: 1126, y: 38, w: 62, h: 293, row0: 45.7, step: 13.93 }}
      />
    </svg>
  );
}
